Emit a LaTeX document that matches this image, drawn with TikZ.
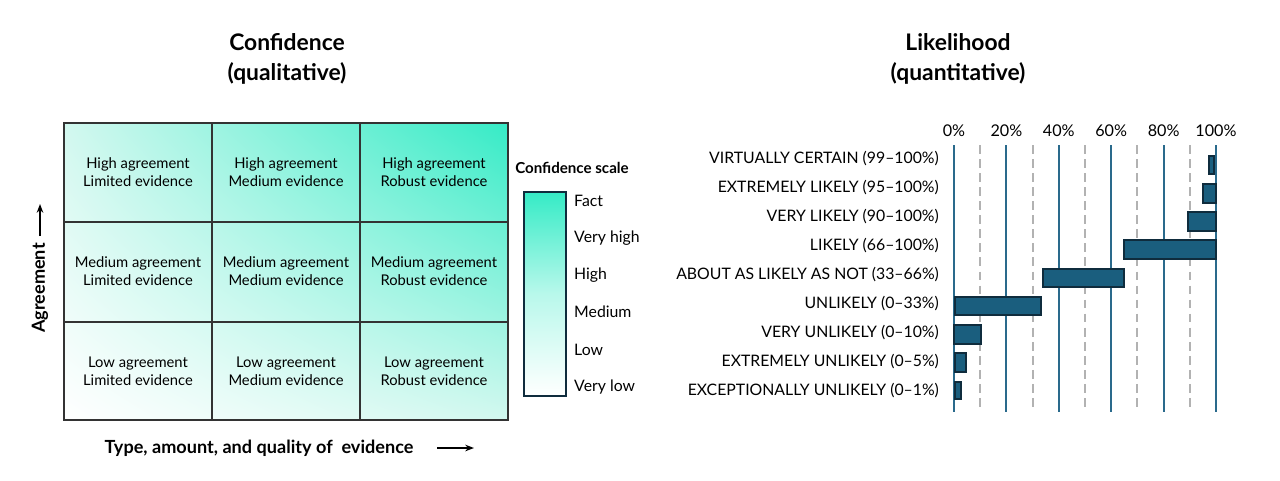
\documentclass[tikz,border=0pt]{standalone}
\usepackage{fontspec}
\setmainfont{Lato}
\usetikzlibrary{positioning,arrows.meta,shadings}
\definecolor{teal1}{HTML}{35EBC6}
\definecolor{teal2}{HTML}{D2F8EF}
\definecolor{navy}{HTML}{0F2C3D}
\definecolor{barblue}{HTML}{1A5E7E}
\definecolor{gridblue}{HTML}{2A6A8C}
\begin{document}
\begin{tikzpicture}[x=0.02cm,y=-0.02cm,
  ti/.style={font=\fontsize{13}{17}\selectfont\bfseries,align=center},
  ce/.style={font=\fontsize{8.4}{10}\selectfont,align=center},
  sc/.style={font=\fontsize{9}{10}\selectfont,anchor=west},
  lb/.style={font=\fontsize{9}{10}\selectfont,anchor=east},
  pc/.style={font=\fontsize{9.2}{10}\selectfont},
  ax/.style={font=\fontsize{10.3}{11}\selectfont\bfseries},
  bar/.style={fill=barblue,draw=navy,line width=1pt},
  sol/.style={gridblue,line width=1.1pt},
  das/.style={gray!60,line width=1.1pt,dash pattern=on 5pt off 3pt},
  ]
  \useasboundingbox (0,0) rectangle (1280,480);

  % confidence grid
  \node at (287,59) [ti] (t1) {Confidence\\(qualitative)};
  \shade[lower left=white,lower right=teal2,upper left=teal2,upper right=teal1]
    (64,123) rectangle (508,420);
  \draw[black!80,line width=1pt] (64,123) rectangle (508,420);
  \draw[black!80,line width=0.8pt] (212,123) -- (212,420) (360,123) -- (360,420)
    (64,222) -- (508,222) (64,322) -- (508,322);
  \node at (138,172) [ce] (c11) {High agreement\\Limited evidence};
  \node at (286,172) [ce] (c12) {High agreement\\Medium evidence};
  \node at (434,172) [ce] (c13) {High agreement\\Robust evidence};
  \node at (138,271) [ce] (c21) {Medium agreement\\Limited evidence};
  \node at (286,271) [ce] (c22) {Medium agreement\\Medium evidence};
  \node at (434,271) [ce] (c23) {Medium agreement\\Robust evidence};
  \node at (138,371) [ce] (c31) {Low agreement\\Limited evidence};
  \node at (286,371) [ce] (c32) {Low agreement\\Medium evidence};
  \node at (434,371) [ce] (c33) {Low agreement\\Robust evidence};

  % axis labels
  \node at (40,288) [ax,rotate=90] (ag) {Agreement};
  \coordinate (ag1) at (40,236);
  \coordinate (ag2) at (40,204);
  \draw[-{Stealth[length=5pt]},line width=0.9pt] (ag1) -- (ag2);
  \node at (259,448) [ax] (ev) {Type, amount, and quality of \ evidence};
  \coordinate (ev1) at (437,448);
  \coordinate (ev2) at (474,448);
  \draw[-{Stealth[length=5pt]},line width=0.9pt] (ev1) -- (ev2);

  % confidence scale
  \node at (572,168) [pc,font=\fontsize{8.6}{9}\selectfont\bfseries] (cs) {Confidence scale};
  \shade[top color=teal1,bottom color=white,middle color=teal1!35] (524,192) rectangle (566,396);
  \draw[navy,line width=1.2pt] (524,192) rectangle (566,396);
  \node at (568,201) [sc] (s1) {Fact};
  \node at (568,238) [sc] (s2) {Very high};
  \node at (568,275) [sc] (s3) {High};
  \node at (568,312) [sc] (s4) {Medium};
  \node at (568,350) [sc] (s5) {Low};
  \node at (568,387) [sc] (s6) {Very low};

  % likelihood chart
  \node at (958,59) [ti] (t2) {Likelihood\\(quantitative)};
  \foreach \p in {0,20,...,100} {
    \draw[sol] ({954+2.62*\p},145) -- ({954+2.62*\p},412);
    \node at ({954+2.62*\p},131) [pc] (p\p) {\p\%};
  }
  \foreach \p in {10,30,50,70,90}
    \draw[das] ({954+2.62*\p},145) -- ({954+2.62*\p},412);

  \draw[bar] (1209,156) rectangle (1214,174);
  \draw[bar] (1203,184) rectangle (1216,203);
  \draw[bar] (1188,212) rectangle (1216,231);
  \draw[bar] (1124,240) rectangle (1216,259);
  \draw[bar] (1043,269) rectangle (1124,287);
  \draw[bar] (955,297) rectangle (1041,315);
  \draw[bar] (954,325) rectangle (981,344);
  \draw[bar] (955,353) rectangle (966,372);
  \draw[bar] (955,382) rectangle (961,399);

  \node at (945,159) [lb] (l1) {VIRTUALLY CERTAIN (99–100\%)};
  \node at (945,188) [lb] (l2) {EXTREMELY LIKELY (95–100\%)};
  \node at (945,217) [lb] (l3) {VERY LIKELY (90–100\%)};
  \node at (945,246) [lb] (l4) {LIKELY (66–100\%)};
  \node at (945,275) [lb] (l5) {ABOUT AS LIKELY AS NOT (33–66\%)};
  \node at (945,304) [lb] (l6) {UNLIKELY (0–33\%)};
  \node at (945,333) [lb] (l7) {VERY UNLIKELY (0–10\%)};
  \node at (945,362) [lb] (l8) {EXTREMELY UNLIKELY (0–5\%)};
  \node at (945,391) [lb] (l9) {EXCEPTIONALLY UNLIKELY (0–1\%)};
\end{tikzpicture}
\end{document}
